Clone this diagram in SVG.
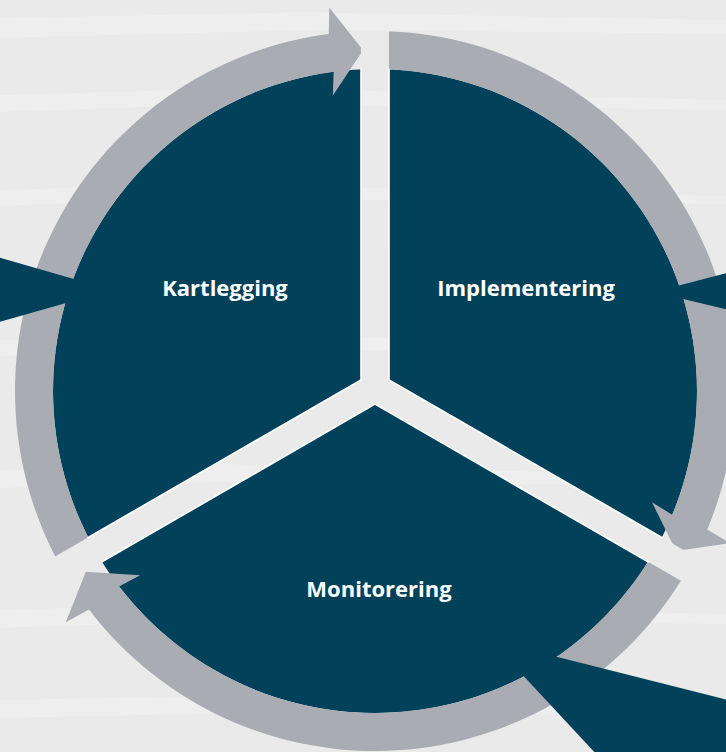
<svg xmlns="http://www.w3.org/2000/svg" width="726" height="752" viewBox="0 0 726 752">
<style>
.sector{fill:#02415a}
.ring{fill:#a9adb3}
.callout{fill:#02415a}
.label{font-family:"Open Sans","Liberation Sans",sans-serif;font-weight:700;font-size:22px;fill:#ffffff;text-anchor:middle}
.streak{fill:#f2f2f2;opacity:0.5}
.edge{fill:none;stroke:#ffffff;stroke-width:1.6}
</style>
<defs>
<polygon id="ygap" points="361,-50 389,-50 389,379.92 822,629.92 808,654.17 375,404.17 -58,654.17 -72,629.92 361,379.92"/>
<mask id="gapmask" maskUnits="userSpaceOnUse" x="0" y="0" width="726" height="752">
<rect x="0" y="0" width="726" height="752" fill="#fff"/>
<use href="#ygap" fill="#000"/>
</mask>
<clipPath id="discclip"><circle cx="375" cy="391" r="323"/></clipPath>
<path id="arrow" class="ring" d="M 63.23 571 A 360 360 0 0 1 328.76 33.98 L 329.24 7.56 L 363.1 50.2 L 332.85 95.48 L 333.64 71.67 A 322 322 0 0 0 96.14 552 Z"/>
</defs>
<rect x="0" y="0" width="726" height="752" fill="#eaeaea"/>
<g id="background-texture">
<path class="streak" d="M0 18 L300 12 L726 20 L726 34 L320 30 L0 38 Z"/>
<path class="streak" d="M0 95 L250 88 L726 100 L726 110 L240 104 L0 112 Z"/>
<path class="streak" d="M0 190 L200 184 L726 196 L726 204 L200 198 L0 206 Z"/>
<path class="streak" d="M0 340 L180 334 L726 344 L726 352 L180 350 L0 356 Z"/>
<path class="streak" d="M0 470 L220 464 L726 476 L726 486 L220 482 L0 488 Z"/>
<path class="streak" d="M0 610 L260 602 L726 614 L726 624 L260 620 L0 628 Z"/>
<path class="streak" d="M0 700 L300 694 L726 706 L726 716 L300 712 L0 718 Z"/>
</g>
<g mask="url(#gapmask)">
<g id="node-kartlegging">
<path class="sector" d="M 375 391 L 96.14 552 A 322 322 0 0 1 375 69 Z"/>
</g>
<g id="node-implementering">
<path class="sector" d="M 375 391 L 375 69 A 322 322 0 0 1 653.86 552 Z"/>
</g>
<g id="node-monitorering">
<path class="sector" d="M 375 391 L 653.86 552 A 322 322 0 0 1 96.14 552 Z"/>
</g>
<g id="connectors">
<use id="arrow-kartlegging-implementering" href="#arrow"/>
<use id="arrow-implementering-monitorering" href="#arrow" transform="rotate(120 375 391)"/>
<use id="arrow-monitorering-kartlegging" href="#arrow" transform="rotate(240 375 391)"/>
</g>
<g id="callouts">
<polygon id="callout-kartlegging" class="callout" points="112,290 -50,243.5 -50,336"/>
<polygon id="callout-implementering" class="callout" points="654,292 800,253.8 800,327"/>
<polygon id="callout-monitorering" class="callout" points="490,640 800,718 800,800 639,800"/>
</g>
</g>
<g clip-path="url(#discclip)">
<use href="#ygap" class="edge"/>
</g>
<g id="labels">
<text class="label" x="225" y="296">Kartlegging</text>
<text class="label" x="526" y="296">Implementering</text>
<text class="label" x="379" y="597">Monitorering</text>
</g>
</svg>
